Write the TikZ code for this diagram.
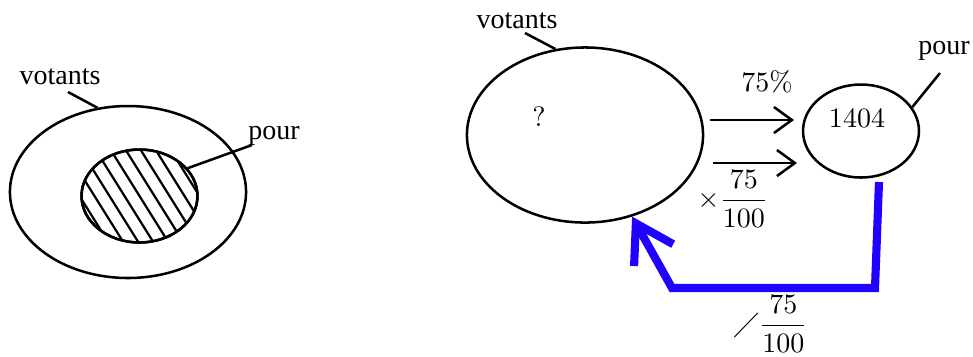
\documentclass[tikz,border=0pt]{standalone}
\usepackage{amsmath,amssymb}
\usepackage{fontspec}
\newfontfamily\timesfont{Liberation Serif}
\usetikzlibrary{shapes.geometric,arrows.meta,calc}
\definecolor{backblue}{RGB}{32,0,255}

\begin{document}
\begin{tikzpicture}[x=0.357pt,y=-0.357pt,
    set/.style={draw,ellipse,line width=0.9pt,inner sep=0pt},
    word/.style={font=\timesfont,inner sep=1pt},
    thinarrow/.style={line width=0.9pt,-{Straight Barb[length=6.4pt,width=9.3pt]}},
    backarrow/.style={line width=2.9pt,backblue,line join=miter,
      -{Straight Barb[length=13pt,width=16pt]}}]
  \useasboundingbox (0,0) rectangle (973,356);
  % left: the voters and the part that votes for
  \node[set,minimum width=84.3pt,minimum height=61.4pt] (outerL) at (128,192) {};
  \node[set,minimum width=41.4pt,minimum height=33.2pt] (inL) at (139.5,196) {};
  \begin{scope}
    \clip (139.5,196) ellipse [x radius=20.7pt,y radius=16.6pt];
    \foreach \k in {-7,...,7}{\draw[line width=0.8pt] (139.5+\k*15-60,100) -- ++(120,192);}
  \end{scope}
  \draw[line width=0.9pt] (inL) ellipse [x radius=20.7pt,y radius=16.6pt];
  \node[word] (votL) at (60,77) {votants};
  \node[word] (pourL) at (274,136) {pour};
  \coordinate (votLend) at (68,92);
  \coordinate (pourLend) at (252,145);
  \draw[line width=0.9pt] (votLend) -- (outerL.110);
  \draw[line width=0.9pt] (inL.30) -- (pourLend);
  % right: from the voters to the 1404 votes for
  \node[set,minimum width=84.3pt,minimum height=62.5pt] (bigR) at (585,135) {};
  \node[set,minimum width=41.4pt,minimum height=33.2pt] (smallR) at (861,131) {};
  \node (unknown) at (539,117) {$?$};
  \node (count) at (857,118) {$1404$};
  \node[word] (votR) at (517,21) {votants};
  \node[word] (pourR) at (944,51) {pour};
  \coordinate (votRend) at (525,33);
  \coordinate (pourRend) at (940,73);
  \draw[line width=0.9pt] (votRend) -- (bigR.109);
  \draw[line width=0.9pt] (smallR.25) -- (pourRend);
  \coordinate (a1) at (710,120);
  \coordinate (b1) at (794,120);
  \coordinate (a2) at (713,163);
  \coordinate (b2) at (797,163);
  \draw[thinarrow] (a1) -- (b1);
  \draw[thinarrow] (a2) -- (b2);
  \node (pct) at (767,82) {$75\%$};
  \node (mult) at (733,199) {$\times\dfrac{75}{100}$};
  % way back: divide
  \coordinate (c0) at (879,182);
  \coordinate (c1) at (875,288);
  \coordinate (c2) at (672,288);
  \draw[backarrow] (c0) -- (c1) -- (c2) -- (bigR.-60);
  \node (div) at (771,324) {$\diagup\dfrac{75}{100}$};
\end{tikzpicture}
\end{document}
